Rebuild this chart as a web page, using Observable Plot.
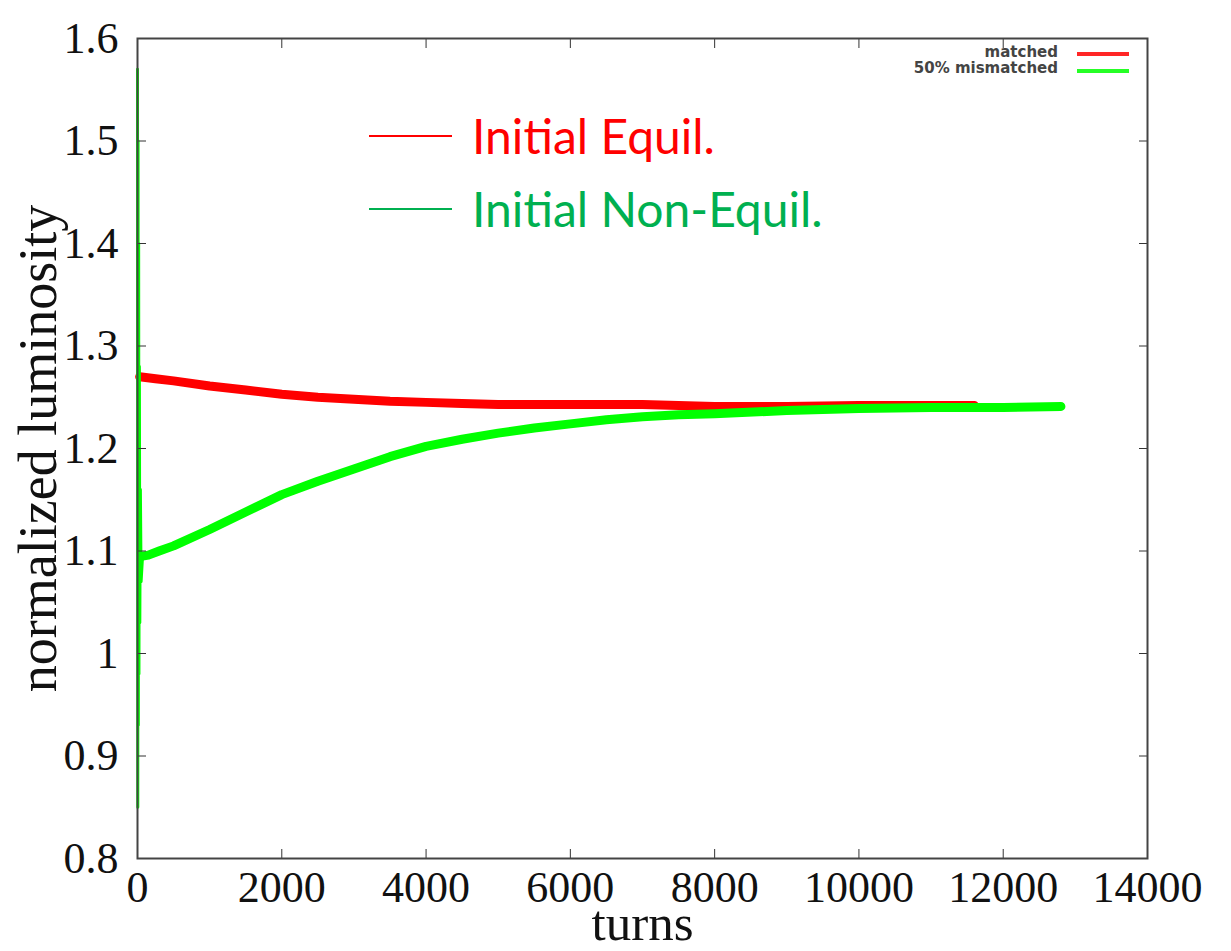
<!DOCTYPE html>
<html>
<head>
<meta charset="utf-8">
<script src="https://cdn.jsdelivr.net/npm/d3@7"></script>
<script src="https://cdn.jsdelivr.net/npm/@observablehq/plot@0.6"></script>
<style>
  html, body { margin: 0; padding: 0; background: #fff; }
  #wrap { position: relative; width: 1231px; height: 951px; overflow: hidden; }
  .ann { position: absolute; white-space: nowrap; }
</style>
</head>
<body>
<div id="wrap"></div>
<script>
// ---- data ----
const xTicks = [0, 2000, 4000, 6000, 8000, 10000, 12000, 14000];
const xTickLabels = ["0", "2000", "4000", "6000", "8000", "10000", "12000", "14000"];
const yTicks = [0.8, 0.9, 1, 1.1, 1.2, 1.3, 1.4, 1.5, 1.6];
const yTickLabels = ["0.8", "0.9", "1", "1.1", "1.2", "1.3", "1.4", "1.5", "1.6"];

// "matched" (Initial Equil.) – transient spike at start
const redSpikeTurns = [0, 5, 10, 15, 20, 30];
const redSpikeLum   = [1.41, 1.25, 1.31, 1.26, 1.28, 1.27];
// "matched" – main curve
const redTurns = [30, 250, 500, 1000, 1500, 2000, 2500, 3000, 3500, 4000, 4500, 5000, 5500, 6000, 7000, 8000, 9000, 10000, 11000, 11600];
const redLum   = [1.270, 1.268, 1.266, 1.261, 1.257, 1.253, 1.250, 1.248, 1.246, 1.245, 1.244, 1.243, 1.243, 1.243, 1.243, 1.241, 1.241, 1.242, 1.242, 1.242];

// "50% mismatched" (Initial Non-Equil.) – transient oscillation at start
const greenSpikeTurns = [0, 4, 8, 12, 16, 20, 26, 32, 40, 50, 70];
const greenSpikeLum   = [1.57, 0.85, 1.50, 0.93, 1.40, 0.98, 1.28, 1.03, 1.16, 1.07, 1.095];
// "50% mismatched" – main curve
const greenTurns = [70, 150, 300, 500, 1000, 1500, 2000, 2500, 3000, 3500, 4000, 4500, 5000, 5500, 6000, 6500, 7000, 7500, 8000, 9000, 10000, 11000, 12000, 12800];
const greenLum   = [1.095, 1.096, 1.100, 1.105, 1.121, 1.138, 1.155, 1.168, 1.180, 1.192, 1.202, 1.209, 1.215, 1.220, 1.224, 1.228, 1.231, 1.233, 1.234, 1.237, 1.239, 1.240, 1.240, 1.241];

const seriesNames = ["matched", "50% mismatched"];
const seriesColors = ["#ff0000", "#00ff00"];
const annotationNames = ["Initial Equil.", "Initial Non-Equil."];
const annotationColors = ["#ff0000", "#00b050"];

const toRows = (xs, ys) => xs.map((t, i) => ({turns: t, lum: ys[i]}));

const xFmt = d => xTickLabels[xTicks.indexOf(d)] ?? String(d);
const yFmt = d => yTickLabels[yTicks.findIndex(v => Math.abs(v - d) < 1e-9)] ?? String(d);

const plot = Plot.plot({
  width: 1231,
  height: 951,
  marginLeft: 137,
  marginRight: 84,
  marginTop: 38,
  marginBottom: 93,
  style: {fontFamily: "'Liberation Serif', 'Times New Roman', serif", fontSize: "44px", color: "#111", background: "#fff", overflow: "visible"},
  x: {domain: [0, 14000]},
  y: {domain: [0.8, 1.6]},
  marks: [
    Plot.line(toRows(redSpikeTurns, redSpikeLum), {x: "turns", y: "lum", stroke: seriesColors[0], strokeWidth: 2, strokeOpacity: 0.8}),
    Plot.line(toRows(redTurns, redLum), {x: "turns", y: "lum", stroke: seriesColors[0], strokeWidth: 9}),
    Plot.line(toRows(greenSpikeTurns, greenSpikeLum), {x: "turns", y: "lum", stroke: seriesColors[1], strokeWidth: 3}),
    Plot.line(toRows(greenTurns, greenLum), {x: "turns", y: "lum", stroke: seriesColors[1], strokeWidth: 9}),
    Plot.axisX({ticks: xTicks, tickSize: -9, tickPadding: 21, tickFormat: xFmt, stroke: "#333",
      label: "turns", labelAnchor: "center", labelArrow: "none", labelOffset: 81, fontSize: 44}),
    Plot.axisX({anchor: "top", ticks: xTicks, tickSize: -9, tickFormat: () => "", label: null, stroke: "#333"}),
    Plot.axisY({ticks: yTicks, tickSize: -9, tickPadding: 28, tickFormat: yFmt, stroke: "#333",
      label: "normalized luminosity", labelAnchor: "center", labelArrow: "none", labelOffset: 120, fontSize: 44}),
    Plot.axisY({anchor: "right", ticks: yTicks, tickSize: -9, tickFormat: () => "", label: null, stroke: "#333"}),
    Plot.frame({stroke: "#444", strokeWidth: 2})
  ]
});
document.getElementById("wrap").appendChild(plot);

// enlarge axis title fonts
plot.querySelectorAll("text").forEach(t => {
  const s = t.textContent;
  if (s === "turns") t.setAttribute("font-size", "51");
  if (s === "normalized luminosity") t.setAttribute("font-size", "54");
});

// ---- gnuplot key (top-right, inside the frame) ----
const wrap = document.getElementById("wrap");
seriesNames.forEach((name, i) => {
  const lab = document.createElement("div");
  lab.className = "ann";
  lab.textContent = name;
  Object.assign(lab.style, {right: (1231 - 1058) + "px", top: (44 + i * 16) + "px", font: "bold 15px 'DejaVu Sans', sans-serif", color: "#444", lineHeight: "17px"});
  wrap.appendChild(lab);
  const ln = document.createElement("div");
  ln.className = "ann";
  Object.assign(ln.style, {left: "1077px", top: (52 + i * 17) + "px", width: "52px", height: "4px", background: seriesColors[i], opacity: 0.85});
  wrap.appendChild(ln);
});

// ---- slide-style annotation ----
annotationNames.forEach((name, i) => {
  const ln = document.createElement("div");
  ln.className = "ann";
  Object.assign(ln.style, {left: "369px", top: (135 + i * 73) + "px", width: "83px", height: "2px", background: annotationColors[i]});
  wrap.appendChild(ln);
  const lab = document.createElement("div");
  lab.className = "ann";
  lab.textContent = name;
  Object.assign(lab.style, {left: "472px", top: (106 + i * 73) + "px", font: "48px Lato, 'Open Sans', sans-serif", color: annotationColors[i], lineHeight: "60px"});
  wrap.appendChild(lab);
});
</script>
</body>
</html>
